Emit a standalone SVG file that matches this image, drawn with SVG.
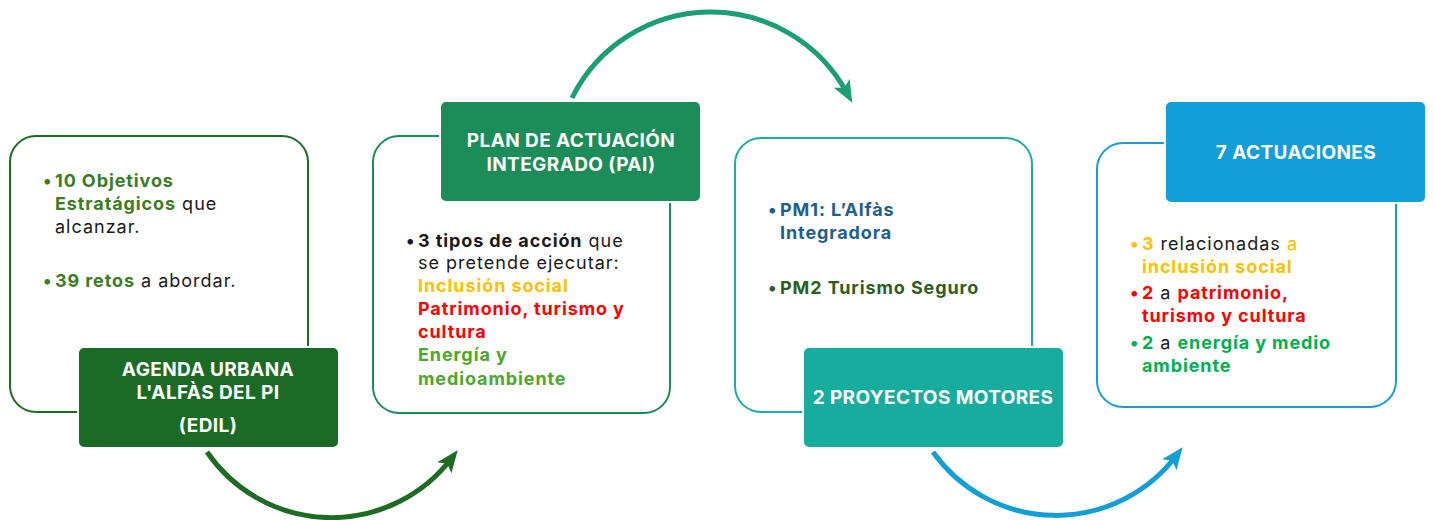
<svg xmlns="http://www.w3.org/2000/svg" width="1434" height="520" viewBox="0 0 1434 520">
<defs>
<style>
text{font-family:Inter,"Open Sans","Liberation Sans",sans-serif;font-size:18px;letter-spacing:1px}
.b{font-weight:700;letter-spacing:0.9px}
.lab{fill:#fff;font-weight:700;font-size:19px;text-anchor:middle;letter-spacing:0.4px}
.blk{fill:#1a1a1a}
</style>
<marker id="a1" markerUnits="userSpaceOnUse" markerWidth="22" markerHeight="22" refX="11" refY="9" orient="auto" viewBox="0 0 22 18"><path d="M0,0 L22,9 L0,18 L5,9 Z" fill="#1E6B24"/></marker>
<marker id="a2" markerUnits="userSpaceOnUse" markerWidth="22" markerHeight="22" refX="11" refY="9" orient="auto" viewBox="0 0 22 18"><path d="M0,0 L22,9 L0,18 L5,9 Z" fill="#1A9E74"/></marker>
<marker id="a3" markerUnits="userSpaceOnUse" markerWidth="22" markerHeight="22" refX="11" refY="9" orient="auto" viewBox="0 0 22 18"><path d="M0,0 L22,9 L0,18 L5,9 Z" fill="#139FD6"/></marker>
</defs>
<rect width="1434" height="520" fill="#fff"/>
<g id="connectors" fill="none" stroke-width="5">
<path d="M207,452 A151,151 0 0 0 451,459" stroke="#1E6B24" marker-end="url(#a1)"/>
<path d="M572,98 A155,155 0 0 1 847,93" stroke="#1A9E74" marker-end="url(#a2)"/>
<path d="M933,452 A151,151 0 0 0 1176,456" stroke="#139FD6" marker-end="url(#a3)"/>
</g>
<g id="node1">
<rect x="10" y="136" width="298" height="276" rx="26" fill="#fff" stroke="#1E6B24" stroke-width="2"/>
<text x="43" y="187"><tspan fill="#3A7D22" class="b">•</tspan><tspan x="55" fill="#3A7D22" class="b">10 Objetivos</tspan></text>
<text x="55" y="210"><tspan fill="#3A7D22" class="b">Estratágicos</tspan><tspan class="blk"> que</tspan></text>
<text x="55" y="233" class="blk">alcanzar.</text>
<text x="43" y="287"><tspan fill="#3A7D22" class="b">•</tspan><tspan x="55" fill="#3A7D22" class="b">39 retos</tspan><tspan class="blk"> a abordar.</tspan></text>
<rect x="78" y="347" width="261" height="101" rx="6" fill="#1B6B26" stroke="#fff" stroke-width="2"/>
<text x="208" y="376" class="lab">AGENDA URBANA</text>
<text x="208" y="399" class="lab">L'ALFÀS DEL PI</text>
<text x="208" y="432" class="lab">(EDIL)</text>
</g>
<g id="node2">
<rect x="373" y="136" width="297" height="277" rx="26" fill="#fff" stroke="#1E8C5A" stroke-width="2"/>
<rect x="440" y="101" width="261" height="101" rx="6" fill="#1C8C58" stroke="#fff" stroke-width="2"/>
<text x="571" y="147" class="lab">PLAN DE ACTUACIÓN</text>
<text x="571" y="171" class="lab">INTEGRADO (PAI)</text>
<text x="406" y="247"><tspan class="b blk">•</tspan><tspan x="418" class="b blk">3 tipos de acción</tspan><tspan class="blk"> que</tspan></text>
<text x="418" y="269" class="blk">se pretende ejecutar:</text>
<text x="418" y="292" class="b" fill="#FFC000">Inclusión social</text>
<text x="418" y="315" class="b" fill="#FF0000">Patrimonio, turismo y</text>
<text x="418" y="338" class="b" fill="#FF0000">cultura</text>
<text x="418" y="361" class="b" fill="#4EA72E">Energía y</text>
<text x="418" y="385" class="b" fill="#4EA72E">medioambiente</text>
</g>
<g id="node3">
<rect x="735" y="138" width="297" height="274" rx="26" fill="#fff" stroke="#1AADA0" stroke-width="2"/>
<text x="768" y="216" class="b" fill="#1F5F8B">•<tspan x="780">PM1: L’Alfàs</tspan></text>
<text x="780" y="239" class="b" fill="#1F5F8B">Integradora</text>
<text x="768" y="294" class="b" fill="#2E5E1E">•<tspan x="780">PM2 Turismo Seguro</tspan></text>
<rect x="803" y="347" width="261" height="101" rx="6" fill="#17AD9E" stroke="#fff" stroke-width="2"/>
<text x="933" y="404" class="lab">2 PROYECTOS MOTORES</text>
</g>
<g id="node4">
<rect x="1097" y="143" width="299" height="264" rx="26" fill="#fff" stroke="#139FD6" stroke-width="2"/>
<rect x="1165" y="101" width="261" height="102" rx="6" fill="#129ED6" stroke="#fff" stroke-width="2"/>
<text x="1296" y="159" class="lab">7 ACTUACIONES</text>
<text x="1130" y="250"><tspan class="b" fill="#FFC000">•</tspan><tspan x="1142" class="b" fill="#FFC000">3</tspan><tspan class="blk"> relacionadas </tspan><tspan fill="#FFC000">a</tspan></text>
<text x="1142" y="273" class="b" fill="#FFC000">inclusión social</text>
<text x="1130" y="299"><tspan class="b" fill="#FF0000">•</tspan><tspan x="1142" class="b" fill="#FF0000">2</tspan><tspan class="blk"> a </tspan><tspan class="b" fill="#FF0000">patrimonio,</tspan></text>
<text x="1142" y="322" class="b" fill="#FF0000">turismo y cultura</text>
<text x="1130" y="349"><tspan class="b" fill="#00B050">•</tspan><tspan x="1142" class="b" fill="#00B050">2</tspan><tspan class="blk"> a </tspan><tspan class="b" fill="#00B050">energía y medio</tspan></text>
<text x="1142" y="372" class="b" fill="#00B050">ambiente</text>
</g>
</svg>
